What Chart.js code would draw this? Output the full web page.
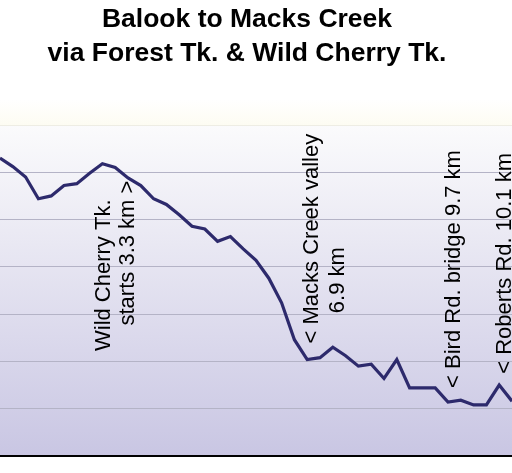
<!DOCTYPE html>
<html>
<head>
<meta charset="utf-8">
<script src="https://cdn.jsdelivr.net/npm/chart.js@4"></script>
<style>
  html, body { margin: 0; padding: 0; background: #ffffff; }
  #profileChart { display: block; }
</style>
</head>
<body>
<canvas id="profileChart" width="512" height="473"></canvas>
<script>
// distance along the walk (km) and elevation (m)
const distanceKm = [0.8, 1.05, 1.3, 1.55, 1.8, 2.05, 2.3, 2.55, 2.8, 3.05,
  3.3, 3.55, 3.8, 4.05, 4.3, 4.55, 4.8, 5.05, 5.3, 5.55,
  5.8, 6.05, 6.3, 6.55, 6.8, 7.05, 7.3, 7.55, 7.8, 8.05,
  8.3, 8.55, 8.8, 9.05, 9.3, 9.55, 9.8, 10.05, 10.3, 10.55, 10.8];
const elevationM = [415, 406, 395, 372, 375, 386, 388, 399, 409, 405,
  394, 386, 372, 366, 355, 343, 340, 327, 332, 319,
  307, 288, 262, 223, 202, 204, 215, 206, 195, 197,
  182, 202, 172, 172, 172, 157, 159, 154, 154, 175, 158];
const yTicks = [100, 150, 200, 250, 300, 350, 400, 450];

const titleLines = ["Balook to Macks Creek", "via Forest Tk. & Wild Cherry Tk."];

// rotated labels, anchored at (km, m) where the text starts
const noteTexts = ["Wild Cherry Tk.", "starts 3.3 km >", "< Macks Creek valley", "6.9 km",
  "< Bird Rd. bridge 9.7 km", "< Roberts Rd. 10.1 km"];
const noteKm = [2.95, 3.42, 7.01, 7.52, 9.78, 10.78];
const noteM = [211, 238, 219, 251, 172, 187];

const backgroundPlugin = {
  id: 'plotBackground',
  beforeDraw(chart) {
    const { ctx, chartArea } = chart;
    const grad = ctx.createLinearGradient(0, chartArea.top, 0, chartArea.bottom);
    grad.addColorStop(0, '#fbfbfc');
    grad.addColorStop(1, '#c9c6e3');
    ctx.save();
    // faint cream band just above the plot
    const band = ctx.createLinearGradient(0, chartArea.top - 25, 0, chartArea.top);
    band.addColorStop(0, '#ffffff');
    band.addColorStop(1, '#fdfcf2');
    ctx.fillStyle = band;
    ctx.fillRect(chartArea.left, chartArea.top - 25, chartArea.right - chartArea.left, 25);
    ctx.fillStyle = grad;
    ctx.fillRect(chartArea.left, chartArea.top, chartArea.right - chartArea.left, chartArea.bottom - chartArea.top);
    ctx.restore();
  }
};

const textPlugin = {
  id: 'profileText',
  afterDraw(chart) {
    const { ctx, scales } = chart;
    ctx.save();
    ctx.fillStyle = '#000000';
    ctx.textAlign = 'center';
    ctx.textBaseline = 'alphabetic';
    ctx.font = 'bold 26.5px "Liberation Sans", Arial, sans-serif';
    titleLines.forEach((line, i) => ctx.fillText(line, 247, 27 + i * 34));

    ctx.font = '22px "Liberation Sans", Arial, sans-serif';
    ctx.textAlign = 'left';
    noteTexts.forEach((text, i) => {
      ctx.save();
      ctx.translate(scales.x.getPixelForValue(noteKm[i]), scales.y.getPixelForValue(noteM[i]));
      ctx.rotate(-Math.PI / 2);
      ctx.fillText(text, 0, 0);
      ctx.restore();
    });
    ctx.restore();
  }
};

const ctx = document.getElementById('profileChart').getContext('2d');
new Chart(ctx, {
  type: 'line',
  data: {
    datasets: [{
      label: 'Elevation',
      data: distanceKm.map((km, i) => ({ x: km, y: elevationM[i] })),
      borderColor: '#2d2a6c',
      borderWidth: 3.2,
      pointRadius: 0,
      tension: 0,
      fill: false
    }]
  },
  options: {
    responsive: false,
    animation: false,
    layout: { padding: { top: 125, bottom: 17, left: 0, right: 0 } },
    plugins: {
      legend: { display: false },
      title: { display: false },
      tooltip: { enabled: false }
    },
    scales: {
      x: {
        type: 'linear',
        min: distanceKm[0],
        max: distanceKm[distanceKm.length - 1],
        ticks: { display: false },
        grid: { display: false, drawTicks: false },
        border: { display: true, color: '#000000', width: 2 }
      },
      y: {
        min: yTicks[0],
        max: yTicks[yTicks.length - 1],
        afterBuildTicks: axis => { axis.ticks = yTicks.map(v => ({ value: v })); },
        ticks: { display: false },
        grid: {
          color: c => c.tick && c.tick.value === yTicks[yTicks.length - 1] ? '#eeede4' : '#b4b3c6',
          lineWidth: 1,
          drawTicks: false
        },
        border: { display: false }
      }
    }
  },
  plugins: [backgroundPlugin, textPlugin]
});
</script>
</body>
</html>
